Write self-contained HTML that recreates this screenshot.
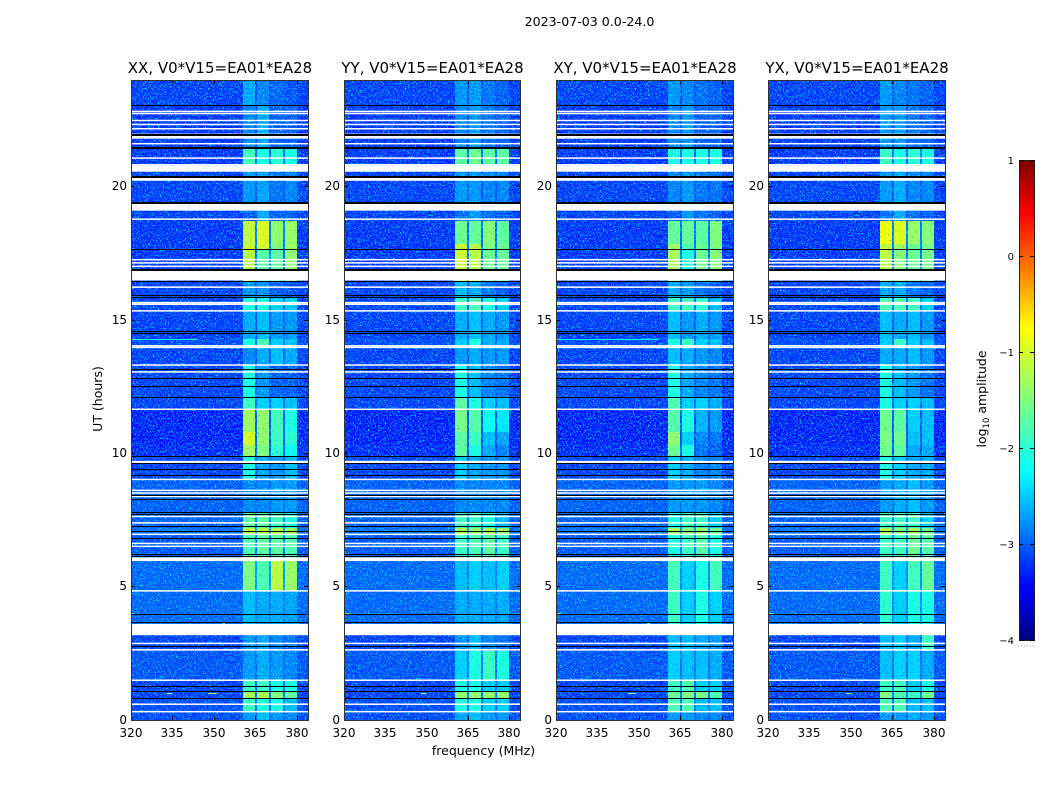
<!DOCTYPE html>
<html lang="en">
<head>
<meta charset="utf-8">
<title>2023-07-03 0.0-24.0</title>
<style>
  html, body { margin: 0; padding: 0; background: #fff; }
  body { width: 1050px; height: 800px; overflow: hidden; }
  svg { display: block; font-family: "DejaVu Sans", "Liberation Sans", sans-serif; fill: #000; }
  .cell { shape-rendering: crispEdges; }
  .noise { mix-blend-mode: screen; }
  .dark-noise { mix-blend-mode: multiply; }
</style>
</head>
<body>
<svg id="figure" xmlns="http://www.w3.org/2000/svg" width="1050" height="800" viewBox="0 0 1050 800">
  <defs>
    <filter id="speckle" x="0" y="0" width="100%" height="100%" color-interpolation-filters="sRGB">
      <feTurbulence type="fractalNoise" baseFrequency="0.6" numOctaves="2" seed="7"/>
      <feColorMatrix type="matrix" values="0 0 0 0 0  3 0 0 0 -1.45  0 0 0 0 0  0 0 0 0 1"/>
    </filter>
    <filter id="dark-speckle" x="0" y="0" width="100%" height="100%" color-interpolation-filters="sRGB">
      <feTurbulence type="fractalNoise" baseFrequency="0.6" numOctaves="2" seed="23"/>
      <feColorMatrix type="matrix" values="3.4 0 0 0 -0.05  3.4 0 0 0 -0.05  0 0 0 0 1  0 0 0 0 1"/>
    </filter>
    <linearGradient id="jet" x1="0" y1="1" x2="0" y2="0">
      <stop offset="0" stop-color="#000080"/>
      <stop offset="0.11" stop-color="#0000ff"/>
      <stop offset="0.35" stop-color="#00ffff"/>
      <stop offset="0.65" stop-color="#ffff00"/>
      <stop offset="0.89" stop-color="#ff0000"/>
      <stop offset="1" stop-color="#800000"/>
    </linearGradient>
  </defs>
  <text x="589.5" y="26" font-size="12.6" text-anchor="middle">2023-07-03 0.0-24.0</text>
  <text transform="translate(102,399) rotate(-90)" font-size="12.5" text-anchor="middle">UT (hours)</text>
  <text x="483.5" y="755" font-size="12.5" text-anchor="middle">frequency (MHz)</text>
  <text transform="translate(986,399) rotate(-90)" font-size="12.5" text-anchor="middle">log<tspan font-size="8.5" dy="3">10</tspan><tspan dy="-3"> amplitude</tspan></text>
</svg>
<script>
// Panels
const panelTitles = ['XX, V0*V15=EA01*EA28', 'YY, V0*V15=EA01*EA28', 'XY, V0*V15=EA01*EA28', 'YX, V0*V15=EA01*EA28'];
const polNames = ['xx', 'yy', 'xy', 'yx'];

// Tick labels
const freqTicks = [320, 335, 350, 365, 380];
const utTicks = [0, 5, 10, 15, 20];
const colorbarTicks = [-4, -3, -2, -1, 0, 1];

// Sub-band frequencies in MHz
const bandStarts = [360.5, 365.5, 370.6, 375.7];
const bandEnds = [364.8, 369.9, 374.9, 380.0];

// Time block edges (UT hours), read top-down
const utEdges = [24, 23.07, 21.46, 20.8, 19.4, 18.7, 17.85, 17.68, 16.46, 15.88, 15.36, 14.3, 14.0, 13.3, 12.13, 11.67, 10.8, 10.3, 9.91, 9.0, 7.8, 7.2, 6.97, 5.96, 4.85, 3.6, 2.6, 1.5, 1.1, 0.82, 0.3, 0];

// Off-band log10 amplitude in each time block
const backgroundLevels = [-3.25, -3.3, -3.3, -3.25, -3.25, -3.3, -3.3, -3.3, -3.25, -3.25, -3.25, -3.2, -3.25, -3.25, -3.25, -3.4, -3.4, -3.35, -3.25, -3.1, -3.1, -3.0, -3.15, -3.05, -3.05, -3.25, -3.15, -3.25, -3.25, -3.2, -3.2];

// In-band log10 amplitude per time block: four sub-bands
const xxLevels = [
  [-2.45,-2.65,-2.8,-2.9],[-2.65,-2.45,-2.85,-2.85],[-1.85,-2.0,-1.95,-2.0],[-2.55,-2.5,-2.75,-2.65],[-2.85,-2.45,-2.85,-2.85],
  [-1.1,-0.95,-1.4,-1.35],[-1.05,-1.0,-1.5,-1.35],[-1.15,-1.75,-1.7,-1.4],[-2.55,-2.6,-2.85,-2.95],[-2.0,-2.0,-2.25,-2.25],
  [-2.45,-2.35,-2.55,-2.55],[-2.0,-1.8,-2.25,-2.35],[-2.65,-2.45,-2.35,-2.45],[-2.0,-2.55,-2.85,-2.85],[-1.9,-2.25,-2.25,-2.35],
  [-1.3,-1.4,-1.85,-2.0],[-1.0,-1.4,-1.9,-1.95],[-1.3,-1.5,-1.95,-2.05],[-2.0,-2.45,-2.55,-2.35],[-2.65,-2.65,-2.55,-2.55],
  [-1.7,-1.7,-1.9,-2.0],[-1.15,-1.2,-1.2,-1.3],[-1.8,-1.7,-1.7,-1.8],[-1.5,-1.8,-1.15,-1.35],[-2.35,-2.45,-2.45,-2.5],
  [-2.55,-2.45,-2.65,-2.75],[-2.55,-2.45,-2.55,-2.65],[-1.9,-1.9,-2.0,-2.0],[-1.3,-1.25,-1.5,-1.7],[-1.9,-2.0,-2.0,-2.35],[-2.55,-2.35,-2.55,-2.65]
];
const yyLevels = [
  [-2.55,-2.55,-2.75,-2.85],[-2.65,-2.55,-2.75,-2.85],[-1.7,-1.6,-1.7,-1.7],[-2.55,-2.55,-2.65,-2.65],[-2.75,-2.55,-2.75,-2.85],
  [-1.6,-1.65,-1.45,-1.7],[-1.1,-1.15,-1.5,-1.6],[-1.05,-1.15,-1.6,-1.65],[-2.35,-2.45,-2.75,-2.85],[-1.9,-1.8,-2.0,-2.25],
  [-2.45,-2.35,-2.45,-2.55],[-2.25,-2.0,-2.45,-2.45],[-2.55,-2.45,-2.55,-2.55],[-2.0,-2.35,-2.65,-2.75],[-1.7,-2.0,-2.25,-2.35],
  [-1.55,-1.75,-2.05,-2.15],[-1.7,-1.9,-2.35,-2.5],[-1.7,-2.0,-2.45,-2.65],[-2.25,-2.45,-2.55,-2.55],[-2.65,-2.65,-2.65,-2.65],
  [-1.9,-1.9,-2.0,-2.35],[-1.2,-1.4,-1.2,-1.3],[-1.9,-1.8,-1.7,-1.9],[-2.35,-2.25,-2.35,-2.25],[-2.45,-2.45,-2.45,-2.45],
  [-2.55,-2.35,-2.65,-2.75],[-2.25,-2.0,-1.9,-2.0],[-2.0,-2.0,-2.25,-2.25],[-1.4,-1.4,-1.4,-1.4],[-2.0,-2.0,-2.25,-2.25],[-2.45,-2.35,-2.55,-2.55]
];
const xyLevels = [
  [-2.55,-2.65,-2.75,-2.85],[-2.65,-2.55,-2.85,-2.85],[-2.0,-2.0,-2.0,-2.0],[-2.65,-2.55,-2.75,-2.75],[-2.85,-2.55,-2.75,-2.85],
  [-1.65,-1.65,-1.7,-1.5],[-1.3,-1.8,-1.6,-1.5],[-1.25,-2.0,-1.6,-1.45],[-2.45,-2.55,-2.75,-2.85],[-1.9,-1.9,-1.95,-2.35],
  [-2.35,-2.55,-2.45,-2.55],[-2.0,-1.9,-2.25,-2.35],[-2.35,-2.45,-2.55,-2.65],[-2.0,-2.45,-2.65,-2.75],[-1.8,-2.25,-2.25,-2.45],
  [-1.75,-2.0,-2.4,-2.55],[-1.4,-2.25,-2.65,-2.75],[-1.6,-2.0,-2.75,-2.85],[-2.25,-2.45,-2.65,-2.65],[-2.55,-2.55,-2.55,-2.65],
  [-2.0,-1.9,-1.9,-2.25],[-1.25,-1.5,-1.35,-1.6],[-2.0,-1.9,-1.75,-2.0],[-1.85,-2.25,-2.0,-1.85],[-1.9,-2.25,-2.0,-2.25],
  [-2.35,-2.35,-2.45,-2.55],[-2.25,-2.35,-2.35,-2.45],[-1.9,-1.8,-2.25,-2.25],[-1.6,-1.5,-1.55,-1.8],[-1.8,-1.8,-2.35,-2.35],[-2.55,-2.55,-2.65,-2.65]
];
const yxLevels = [
  [-2.55,-2.65,-2.75,-2.85],[-2.55,-2.55,-2.75,-2.85],[-1.9,-2.0,-1.95,-2.0],[-2.55,-2.45,-2.65,-2.65],[-2.75,-2.45,-2.75,-2.85],
  [-0.85,-0.95,-1.35,-1.45],[-1.15,-1.3,-1.6,-1.55],[-1.15,-1.45,-1.6,-1.55],[-2.45,-2.45,-2.75,-2.85],[-1.8,-1.8,-1.9,-2.25],
  [-2.35,-2.45,-2.35,-2.55],[-2.25,-1.9,-2.25,-2.35],[-2.45,-2.45,-2.35,-2.55],[-2.0,-2.35,-2.55,-2.75],[-2.0,-2.25,-2.25,-2.35],
  [-1.6,-1.7,-2.25,-2.35],[-1.55,-1.6,-2.35,-2.35],[-1.6,-1.7,-2.45,-2.45],[-2.0,-2.25,-2.45,-2.45],[-2.55,-2.45,-2.35,-2.55],
  [-1.9,-1.9,-1.9,-2.25],[-1.2,-1.5,-1.25,-1.55],[-1.9,-1.9,-1.6,-1.75],[-1.9,-2.25,-1.85,-1.65],[-1.95,-2.25,-2.0,-2.0],
  [-2.35,-2.25,-2.45,-1.9],[-2.35,-2.25,-2.25,-2.45],[-1.9,-1.85,-2.25,-2.0],[-1.5,-1.8,-1.9,-1.6],[-1.8,-1.8,-2.35,-2.35],[-2.55,-2.55,-2.45,-2.55]
];

// Flagged time ranges drawn white: [UT start, UT end]
const whiteGaps = [
  [22.82,22.85],[22.74,22.77],[22.48,22.51],[22.33,22.36],[22.16,22.2],[21.80,21.99],[21.6,21.64],[21.06,21.1],[20.81,20.85],
  [20.56,20.79],[20.22,20.34],[19.10,19.36],[18.77,18.81],[17.25,17.29],[17.13,17.17],[17.0,17.04],[16.48,16.87],[16.22,16.26],
  [15.64,15.68],[15.56,15.62],[15.33,15.37],[14.02,14.06],[13.96,14.0],[13.3,13.34],[13.04,13.08],[11.64,11.68],[9.64,9.72],
  [9.01,9.05],[8.6,8.64],[8.5,8.54],[8.37,8.41],[7.62,7.66],[7.38,7.42],[6.95,6.99],[6.61,6.65],[6.5,6.54],[5.96,6.10],
  [4.83,4.87],[3.18,3.60],[2.86,2.9],[2.6,2.66],[1.48,1.52],[0.58,0.62],[0.30,0.34]
];

// Flagged time samples drawn black: UT hours
const blackLines = [23.07, 21.97, 21.93, 21.50, 21.46, 20.37, 20.41, 19.40, 19.44, 17.68, 16.89, 16.93, 16.46, 15.88, 15.92, 14.53, 14.57, 13.16, 12.83, 12.51, 12.13, 9.91, 9.63, 9.40, 9.19, 8.45, 8.28, 7.79, 7.72, 7.27, 7.08, 6.82, 6.24, 6.14, 3.97, 3.69, 2.79, 1.27, 1.10, 0.82];

// Narrow-band RFI: [panel index, UT, start MHz, end MHz, level]
const rfiStreaks = [
  [0, 14.3, 320, 344, -2.1], [2, 14.3, 320, 357, -2.2], [0, 4.0, 320, 321, -1.7],
  [1, 4.0, 320, 322, -1.7], [2, 4.0, 320, 322, -1.8], [3, 4.0, 320, 322, -1.8],
  [0, 1.0, 333, 335, -1.4], [0, 1.0, 348, 351, -1.3], [2, 1.0, 346, 349, -1.6],
  [3, 1.0, 348, 350, -1.3], [1, 1.0, 348, 350, -1.4], [2, 3.65, 353, 354, -1.1],
  [0, 3.65, 353, 354, -1.4], [3, 3.65, 353, 354, -1.4], [0, 21.5, 353, 354, -1.8]
];

const svgNS = 'http://www.w3.org/2000/svg';
const figure = document.getElementById('figure');
const panelLefts = [131, 344, 556, 768];
const panelWidths = [177, 176, 177, 177];
const freqMin = 320;
const freqMax = 384;
const utMax = 24;
const plotTop = 80;
const plotBottom = 720;

function xScale(panel, freq) {
  return panelLefts[panel] + (freq - freqMin) * panelWidths[panel] / (freqMax - freqMin);
}
function yScale(ut) {
  return plotBottom - ut * (plotBottom - plotTop) / utMax;
}
function jetColor(level) {
  const f = Math.max(0, Math.min(1, (level + 4) / 5));
  const stops = [[0, 0, 0, 128], [0.11, 0, 0, 255], [0.35, 0, 255, 255], [0.65, 255, 255, 0], [0.89, 255, 0, 0], [1, 128, 0, 0]];
  for (let i = 1; i < stops.length; i++) {
    if (f <= stops[i][0]) {
      const a = stops[i - 1];
      const b = stops[i];
      const t = (f - a[0]) / (b[0] - a[0]);
      return 'rgb(' + [1, 2, 3].map(function (c) { return Math.round(a[c] + (b[c] - a[c]) * t); }).join(',') + ')';
    }
  }
  return '#800000';
}
// The speckle layer lifts dim cells, so their base colour sits lower to keep the same mean.
function speckleBase(level) {
  if (level >= -1.9) return level;
  return level - 0.25 * Math.min(1, (-1.9 - level) / 0.3);
}
function makeRect(parent, name, cls, x, y, w, h, fill) {
  const el = document.createElementNS(svgNS, 'rect');
  
  
  if (cls) el.setAttribute('class', cls);
  el.setAttribute('x', x);
  el.setAttribute('y', y);
  el.setAttribute('width', w);
  el.setAttribute('height', h);
  el.setAttribute('fill', fill);
  parent.appendChild(el);
  return el;
}
function makeLine(parent, name, x1, y1, x2, y2, stroke) {
  const el = document.createElementNS(svgNS, 'line');
  
  
  el.setAttribute('x1', x1);
  el.setAttribute('y1', y1);
  el.setAttribute('x2', x2);
  el.setAttribute('y2', y2);
  el.setAttribute('stroke', stroke);
  el.setAttribute('stroke-width', 1);
  parent.appendChild(el);
  return el;
}
function makeText(parent, name, x, y, size, anchor, content) {
  const el = document.createElementNS(svgNS, 'text');
  
  
  el.setAttribute('x', x);
  el.setAttribute('y', y);
  el.setAttribute('font-size', size);
  el.setAttribute('text-anchor', anchor);
  el.textContent = content;
  parent.appendChild(el);
  return el;
}

const allLevels = [xxLevels, yyLevels, xyLevels, yxLevels];

function drawPanel(p) {
  const g = document.createElementNS(svgNS, 'g');
  
  
  figure.appendChild(g);

  const panelWidth = panelWidths[p];
  const levels = allLevels[p];
  for (let r = 0; r < levels.length; r++) {
    const yA = Math.round(yScale(utEdges[r]));
    const yB = Math.round(yScale(utEdges[r + 1]));
    const bands = levels[r];
    const bg = backgroundLevels[r];
    const bandMean = (bands[0] + bands[1] + bands[2] + bands[3]) / 4;
    const gap = bg + 0.18 * (bandMean - bg);
    makeRect(g, 'background-cell-' + polNames[p], 'cell', xScale(p, freqMin), yA, panelWidth, yB - yA, jetColor(bg));
    for (let b = 0; b < bands.length; b++) {
      const xA = Math.round(xScale(p, bandStarts[b]));
      const xB = Math.round(xScale(p, bandEnds[b]));
      if (b < bands.length - 1) {
        const xC = Math.round(xScale(p, bandStarts[b + 1]));
        makeRect(g, 'band-gap-cell-' + polNames[p], 'cell', xB, yA, xC - xB, yB - yA, jetColor(gap));
      }
      makeRect(g, 'band-cell-' + polNames[p], 'cell', xA, yA, xB - xA, yB - yA, jetColor(speckleBase(bands[b])));
    }
  }

  rfiStreaks.forEach(function (s) {
    if (s[0] !== p) return;
    const x = xScale(p, s[2]);
    makeRect(g, 'rfi-streak', 'cell', x, Math.round(yScale(s[1])), xScale(p, s[3]) - x, 1, jetColor(s[4]));
  });

  const noise = makeRect(g, 'speckle-texture', 'noise', panelLefts[p], plotTop, panelWidth, plotBottom - plotTop, '#000');
  noise.setAttribute('filter', 'url(#speckle)');
  const darkNoise = makeRect(g, 'dark-speckle-texture', 'dark-noise', panelLefts[p], plotTop, panelWidth, plotBottom - plotTop, '#fff');
  darkNoise.setAttribute('filter', 'url(#dark-speckle)');

  whiteGaps.forEach(function (gapRange) {
    const yA = yScale(gapRange[1]);
    const h = Math.max(1.5, yScale(gapRange[0]) - yA);
    makeRect(g, 'flagged-white-gap', '', panelLefts[p], yA, panelWidth, h, '#fff');
  });
  blackLines.forEach(function (ut) {
    makeRect(g, 'flagged-black-line', 'cell', panelLefts[p], Math.round(yScale(ut)), panelWidth, 1, '#000');
  });

  const left = panelLefts[p];
  const right = left + panelWidth;
  freqTicks.forEach(function (f) {
    const x = Math.round(xScale(p, f)) + 0.5;
    makeLine(g, 'x-tick-bottom', x, plotBottom, x, plotBottom - 4, '#000');
    makeLine(g, 'x-tick-top', x, plotTop, x, plotTop + 4, '#000');
    makeText(g, 'x-tick-label', x - 0.5, plotBottom + 17, 12, 'middle', String(f));
  });
  utTicks.forEach(function (u) {
    const y = Math.round(yScale(u) - 0.4) + 0.5;
    makeLine(g, 'y-tick-left', left, y, left + 4, y, '#000');
    makeLine(g, 'y-tick-right', right, y, right - 4, y, '#000');
    makeText(g, 'y-tick-label', left - 4, y + 3.5, 12, 'end', String(u));
  });

  const frame = makeRect(g, 'panel-frame', '', left + 0.5, plotTop + 0.5, panelWidth, plotBottom - plotTop, 'none');
  frame.setAttribute('stroke', '#333');
  frame.setAttribute('stroke-width', 1);

  makeText(g, 'panel-title', left + panelWidth / 2 + 0.5, 73, 15, 'middle', panelTitles[p]);
}

for (let p = 0; p < panelTitles.length; p++) {
  drawPanel(p);
}

const cbLeft = 1019;
const cbWidth = 15;
const cbTop = 160;
const cbBottom = 640;
function cbScale(level) {
  return cbBottom - (level + 4) * (cbBottom - cbTop) / 5;
}
const cbGroup = document.createElementNS(svgNS, 'g');


figure.appendChild(cbGroup);
const cbBar = makeRect(cbGroup, 'colorbar-gradient', '', cbLeft + 0.5, cbTop + 0.5, cbWidth, cbBottom - cbTop, 'url(#jet)');
cbBar.setAttribute('stroke', '#222');
cbBar.setAttribute('stroke-width', 1);
colorbarTicks.forEach(function (v) {
  const y = Math.round(cbScale(v)) + 0.5;
  makeLine(cbGroup, 'colorbar-tick-left', cbLeft, y, cbLeft + 4, y, '#000');
  makeLine(cbGroup, 'colorbar-tick-right', cbLeft + cbWidth, y, cbLeft + cbWidth - 4, y, '#000');
  makeText(cbGroup, 'colorbar-tick-label', cbLeft - 5, y + 3.5, 10, 'end', String(v).replace('-', '\u2212'));
});
const dotLine = makeLine(cbGroup, 'colorbar-offset-dots', 1018, 646, 1035, 646, '#999');
dotLine.setAttribute('stroke-dasharray', '1 2');
</script>
</body>
</html>
